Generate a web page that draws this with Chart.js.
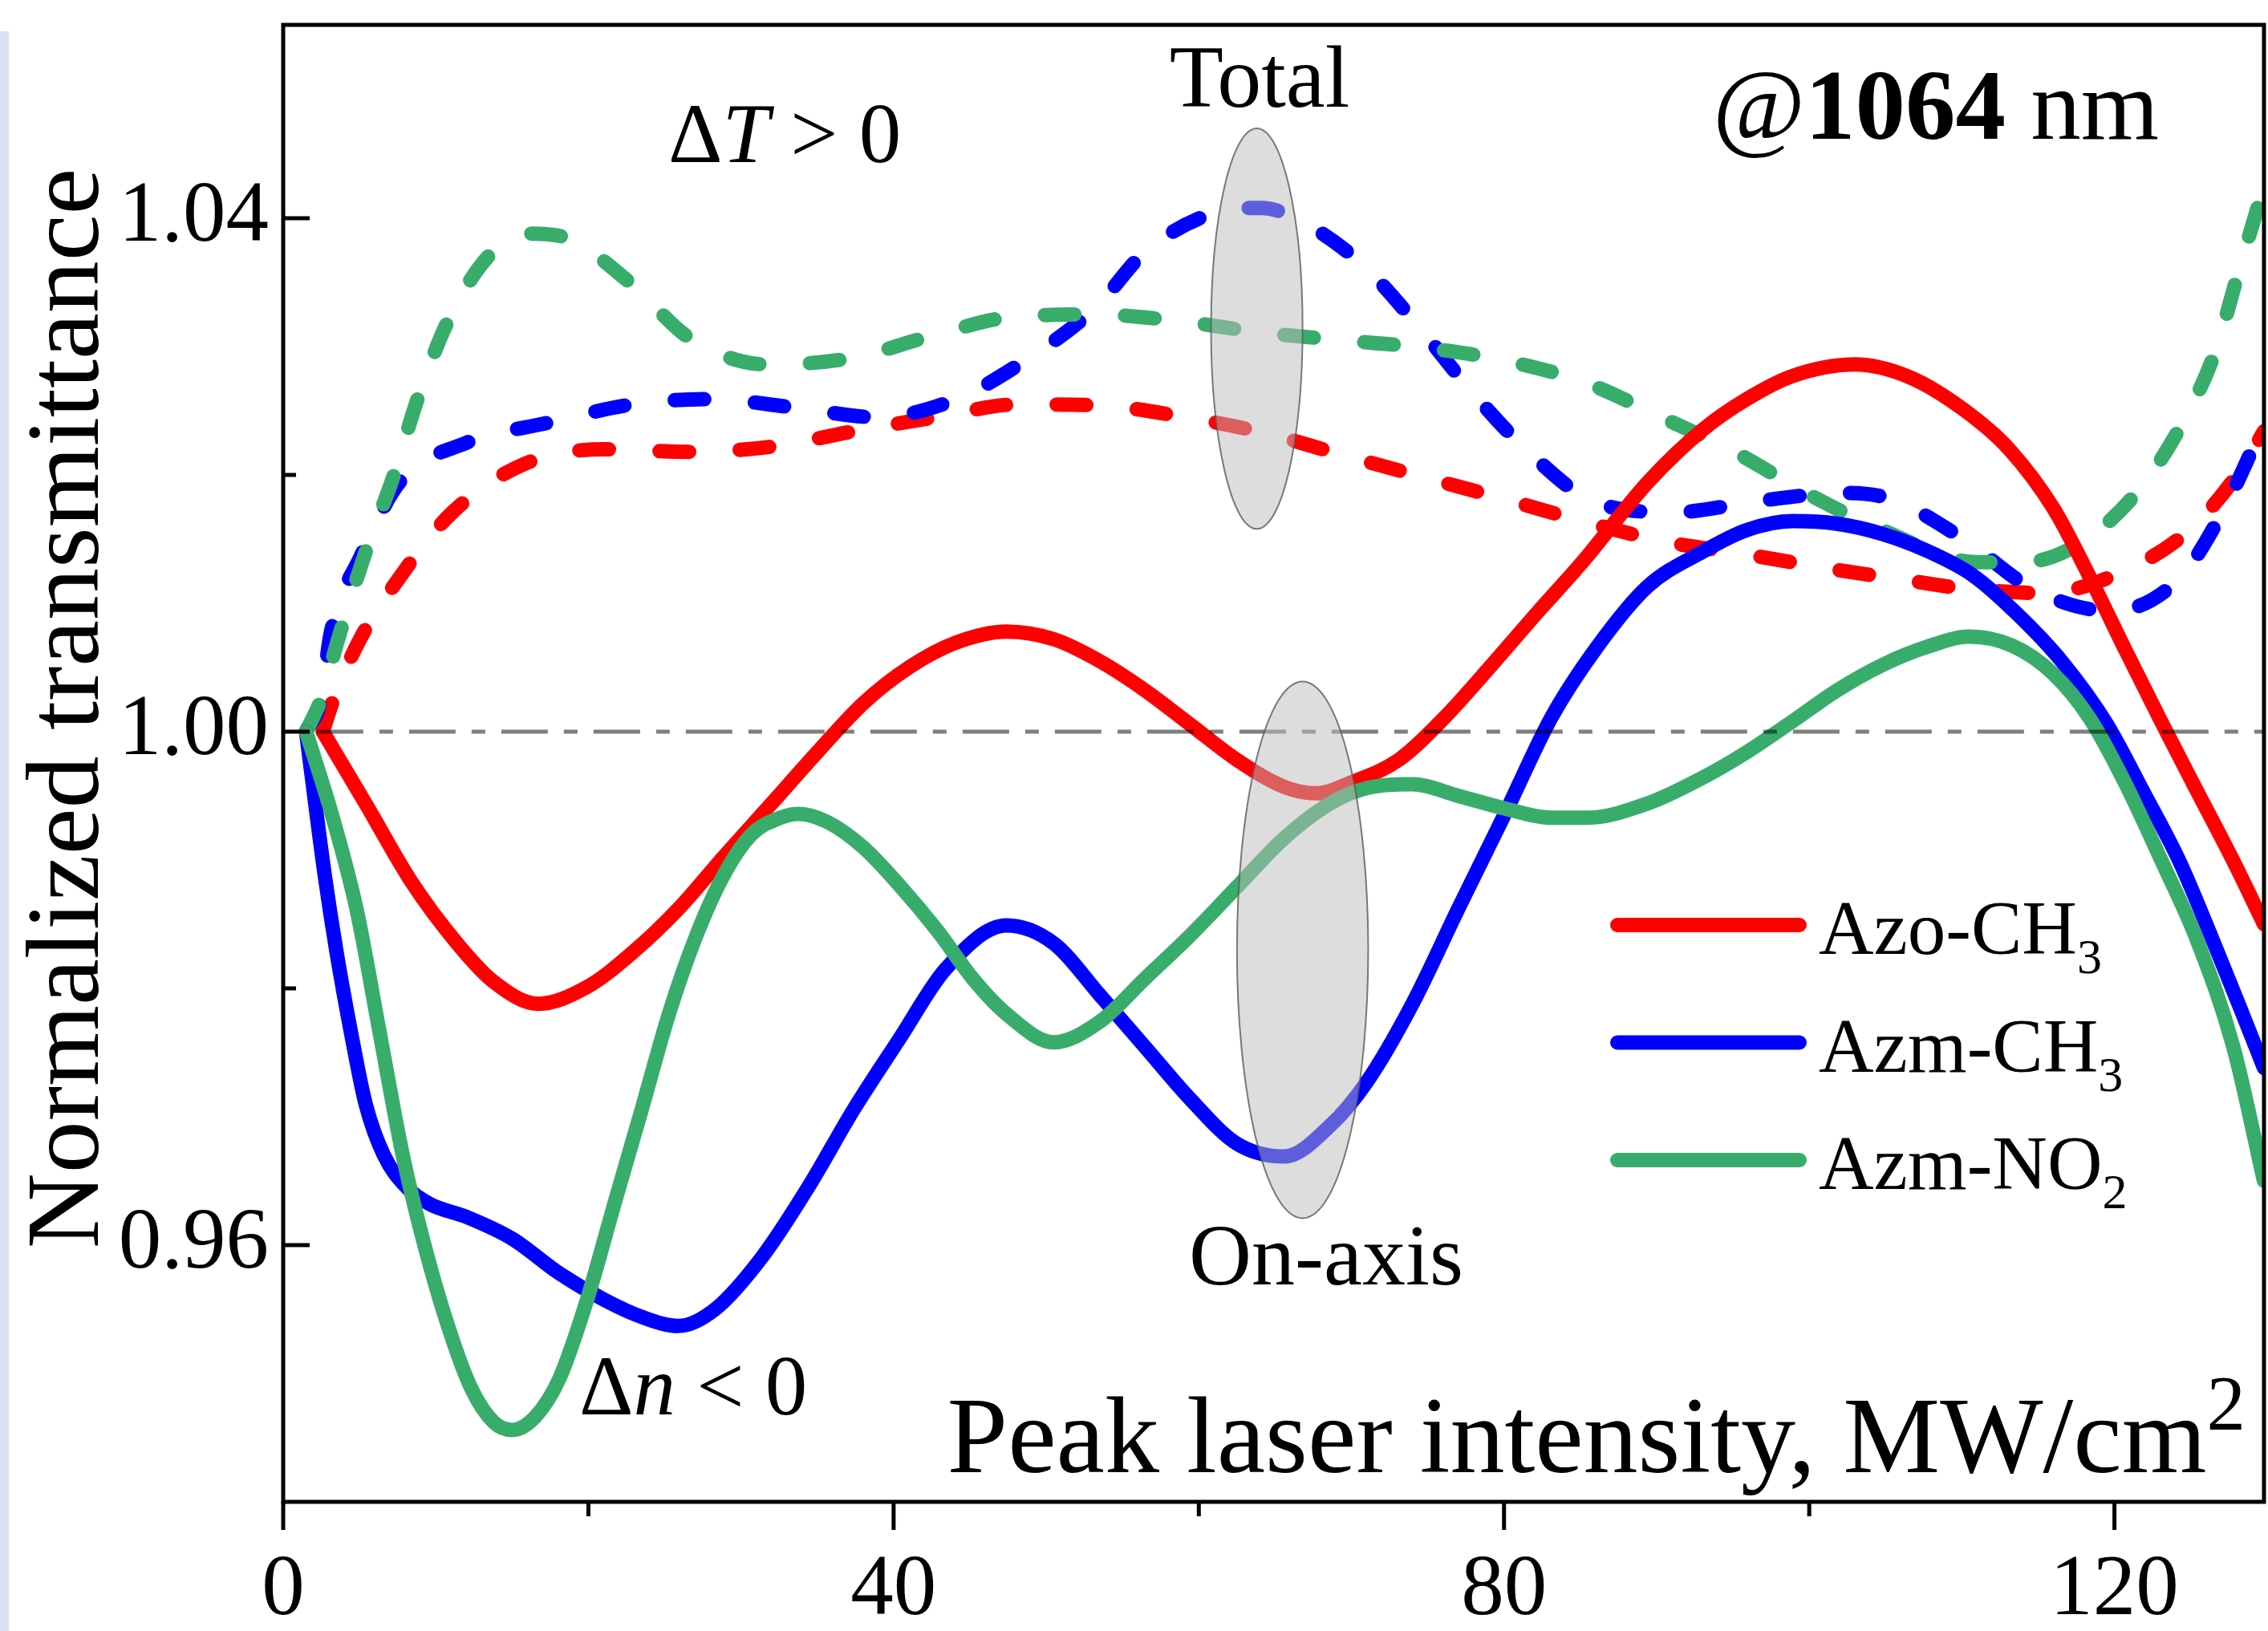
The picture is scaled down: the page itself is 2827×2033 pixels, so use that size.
<!DOCTYPE html>
<html>
<head>
<meta charset="utf-8">
<script src="https://cdn.jsdelivr.net/npm/chart.js@4.4.1/dist/chart.umd.min.js"></script>
<style>
  html, body { margin: 0; padding: 0; background: #fff; }
  #wrap { position: relative; width: 2827px; height: 2033px; }
  #strip { position: absolute; left: 0; top: 39px; width: 11px; height: 1994px; background: #dae3f3; }
  canvas { position: absolute; left: 0; top: 0; }
</style>
</head>
<body>
<div id="wrap">
  <div id="strip"></div>
  <canvas id="chart" width="2827" height="2033"></canvas>
</div>
<script>
// -------------------------------
// Data --------------------------
// -------------------------------
const seriesLabels = ["Azo-CH3", "Azm-CH3", "Azm-NO2"];

// on-axis (solid)
const azoOnX = [2.6, 5.4, 8.4, 11.4, 13.8, 16.7, 19.9, 22.9, 25.9, 28.9, 32.0, 35.0, 38.0, 41.0, 44.0, 47.4, 50.5, 53.5, 56.5, 59.5, 62.5, 65.6, 67.7, 70.1, 73.1, 76.1, 79.2, 82.2, 85.2, 89.4, 93.0, 95.9, 98.9, 103.0, 106.6, 110.1, 113.1, 116.0, 118.4, 120.7, 123.1, 125.4, 127.8, 129.8];
const azoOnY = [1.0000, 0.9944, 0.9883, 0.9835, 0.9805, 0.9788, 0.9801, 0.9828, 0.9862, 0.9903, 0.9944, 0.9984, 1.0022, 1.0050, 1.0069, 1.0078, 1.0072, 1.0055, 1.0032, 1.0005, 0.9978, 0.9957, 0.9952, 0.9961, 0.9978, 1.0011, 1.0052, 1.0093, 1.0133, 1.0194, 1.0235, 1.0259, 1.0277, 1.0286, 1.0276, 1.0251, 1.0220, 1.0174, 1.0120, 1.0064, 1.0007, 0.9954, 0.9899, 0.9850];

const azmCh3OnX = [1.5, 2.7, 3.5, 4.5, 5.4, 6.6, 8.1, 9.6, 12.0, 15.0, 18.1, 21.1, 23.5, 25.9, 28.3, 31.4, 34.4, 37.4, 40.4, 43.4, 47.4, 50.5, 53.5, 56.5, 59.5, 62.5, 65.6, 68.6, 71.0, 74.0, 77.0, 80.1, 83.1, 86.1, 89.4, 93.0, 95.9, 98.9, 101.8, 104.8, 107.7, 110.7, 113.6, 116.6, 119.5, 121.9, 124.3, 126.6, 128.4, 129.8];
const azmCh3OnY = [1.0000, 0.9890, 0.9828, 0.9762, 0.9710, 0.9670, 0.9645, 0.9632, 0.9622, 0.9605, 0.9578, 0.9557, 0.9544, 0.9537, 0.9550, 0.9591, 0.9645, 0.9706, 0.9761, 0.9815, 0.9849, 0.9835, 0.9795, 0.9754, 0.9713, 0.9679, 0.9669, 0.9693, 0.9727, 0.9788, 0.9862, 0.9937, 1.0011, 1.0066, 1.0113, 1.0140, 1.0157, 1.0164, 1.0162, 1.0154, 1.0141, 1.0122, 1.0092, 1.0054, 1.0006, 0.9953, 0.9898, 0.9833, 0.9780, 0.9738];

const azmNo2OnX = [1.5, 3.2, 4.8, 6.3, 7.8, 9.3, 10.8, 12.3, 13.8, 15.0, 16.5, 18.1, 19.9, 21.7, 23.5, 25.3, 27.1, 28.9, 30.7, 32.6, 33.8, 35.6, 38.0, 40.4, 42.8, 45.3, 47.4, 50.5, 53.5, 56.5, 59.5, 62.5, 65.6, 68.6, 71.0, 74.0, 77.0, 80.1, 83.1, 85.5, 89.4, 93.0, 95.9, 98.9, 101.8, 104.8, 107.7, 110.5, 113.3, 116.0, 118.4, 120.7, 123.1, 125.4, 127.8, 129.8];
const azmNo2OnY = [1.0000, 0.9935, 0.9862, 0.9767, 0.9672, 0.9598, 0.9537, 0.9489, 0.9462, 0.9456, 0.9466, 0.9496, 0.9557, 0.9632, 0.9706, 0.9781, 0.9842, 0.9889, 0.9920, 0.9933, 0.9936, 0.9930, 0.9910, 0.9880, 0.9846, 0.9806, 0.9780, 0.9758, 0.9774, 0.9808, 0.9842, 0.9879, 0.9917, 0.9944, 0.9956, 0.9959, 0.9950, 0.9940, 0.9933, 0.9933, 0.9944, 0.9964, 0.9984, 1.0008, 1.0032, 1.0052, 1.0066, 1.0074, 1.0067, 1.0045, 1.0010, 0.9960, 0.9899, 0.9838, 0.9754, 0.9650];

// total (dashed)
const azoTotX = [2.6, 3.2, 4.9, 7.8, 11.1, 15.9, 21.1, 26.5, 32.0, 37.4, 42.8, 48.2, 53.6, 59.1, 64.2, 69.3, 74.8, 80.1, 85.1, 90.6, 95.9, 101.3, 106.9, 109.8, 115.4, 120.4, 124.9, 128.4, 129.8];
const azoTotY = [1.0000, 1.0022, 1.0069, 1.0123, 1.0171, 1.0209, 1.0220, 1.0218, 1.0222, 1.0234, 1.0245, 1.0255, 1.0254, 1.0245, 1.0233, 1.0216, 1.0198, 1.0181, 1.0164, 1.0148, 1.0138, 1.0127, 1.0117, 1.0112, 1.0108, 1.0124, 1.0157, 1.0206, 1.0234];

const azmCh3TotX = [1.5, 2.5, 3.1, 5.1, 7.6, 12.0, 17.5, 22.9, 28.0, 33.8, 38.9, 44.1, 48.6, 53.2, 56.5, 61.3, 64.1, 66.5, 70.7, 74.3, 77.8, 81.6, 86.1, 91.2, 96.8, 102.4, 105.4, 110.1, 114.8, 119.8, 124.3, 127.2, 129.8];
const azmCh3TotY = [1.0000, 1.0026, 1.0076, 1.0137, 1.0194, 1.0225, 1.0241, 1.0255, 1.0259, 1.0252, 1.0245, 1.0259, 1.0289, 1.0330, 1.0374, 1.0405, 1.0408, 1.0399, 1.0364, 1.0317, 1.0266, 1.0218, 1.0178, 1.0171, 1.0180, 1.0186, 1.0181, 1.0150, 1.0110, 1.0094, 1.0120, 1.0174, 1.0240];

const azmNo2TotX = [1.5, 2.5, 3.6, 5.4, 7.2, 8.8, 10.8, 13.5, 16.2, 18.7, 22.7, 26.7, 31.8, 37.2, 42.4, 47.7, 53.2, 58.6, 64.1, 69.3, 74.8, 80.1, 85.3, 90.3, 95.1, 100.1, 104.8, 111.0, 114.0, 117.5, 121.3, 124.3, 126.6, 128.2, 129.8];
const azmNo2TotY = [1.0000, 1.0026, 1.0072, 1.0140, 1.0198, 1.0259, 1.0320, 1.0371, 1.0388, 1.0384, 1.0350, 1.0306, 1.0286, 1.0291, 1.0308, 1.0323, 1.0325, 1.0320, 1.0311, 1.0305, 1.0299, 1.0289, 1.0272, 1.0245, 1.0218, 1.0184, 1.0157, 1.0132, 1.0132, 1.0145, 1.0184, 1.0237, 1.0296, 1.0361, 1.0425];

// reference line T = 1
const refX = [2.2, 129.8];
const refY = [1.0, 1.0];

// axes
const xMajorTicks = [0, 40, 80, 120];
const xMinorTicks = [20, 60, 100];
const yMajorTicks = [0.96, 1.00, 1.04];
const yMinorTicks = [0.98, 1.02];

// -------------------------------
// Styles ------------------------
// -------------------------------
const serif = '"Liberation Serif", "Times New Roman", serif';
const RED = "#ff0000", BLUE = "#0000ff", GREEN = "#38ad6b";
const LINE_W = 18;
const DASH = [37, 63];

// grey ellipses marking the "Total" and "On-axis" groups (data units)
const ellipses = [
  { x: 63.8, y: 1.0314, rx: 3.0, ry: 0.0156 },
  { x: 66.8, y: 0.9830, rx: 4.3, ry: 0.0209 },
];

const pts = (xs, ys) => xs.map((x, i) => ({ x: x, y: ys[i] }));

function solid(label, color, xs, ys, order) {
  return {
    label: label, data: pts(xs, ys), borderColor: color, borderWidth: LINE_W,
    cubicInterpolationMode: "monotone", borderCapStyle: "round", borderJoinStyle: "round",
    pointRadius: 0, fill: false, order: order,
  };
}
function dashed(label, color, xs, ys, order) {
  const d = solid(label + " (total)", color, xs, ys, order);
  d.borderDash = DASH;
  return d;
}

// mixed-font text helper
function drawRuns(ctx, runs, x, y, align) {
  let w = 0;
  runs.forEach(r => { ctx.font = r.font; w += ctx.measureText(r.t).width; });
  let cx = align === "center" ? x - w / 2 : align === "right" ? x - w : x;
  runs.forEach(r => {
    ctx.font = r.font;
    ctx.fillText(r.t, cx, y + (r.dy || 0));
    cx += ctx.measureText(r.t).width;
  });
}

// keep the plot frame exactly where the layout padding puts it
function noScalePadding(s) {
  s.paddingTop = 0; s.paddingBottom = 0; s.paddingLeft = 0; s.paddingRight = 0;
}

// -------------------------------
// Frame, ticks, ellipses --------
// -------------------------------
const framePlugin = {
  id: "frame",
  afterDatasetsDraw(chart) {
    const { ctx, chartArea: a, scales: { x, y } } = chart;
    ctx.save();
    ellipses.forEach(e => {
      const cx = x.getPixelForValue(e.x), cy = y.getPixelForValue(e.y);
      const rx = x.getPixelForValue(e.x + e.rx) - cx;
      const ry = cy - y.getPixelForValue(e.y + e.ry);
      ctx.beginPath();
      ctx.ellipse(cx, cy, rx, ry, 0, 0, 2 * Math.PI);
      ctx.fillStyle = "rgba(187,187,187,0.5)";
      ctx.fill();
      ctx.lineWidth = 2;
      ctx.strokeStyle = "rgba(90,90,90,0.8)";
      ctx.stroke();
    });

    ctx.strokeStyle = "#000";
    ctx.lineWidth = 5;
    ctx.lineCap = "butt";
    ctx.strokeRect(a.left, a.top, a.right - a.left, a.bottom - a.top);

    // x ticks point outward, y ticks inward
    const xt = (v, len) => {
      const px = x.getPixelForValue(v);
      ctx.beginPath(); ctx.moveTo(px, a.bottom); ctx.lineTo(px, a.bottom + len); ctx.stroke();
    };
    const yt = (v, len) => {
      const py = y.getPixelForValue(v);
      ctx.beginPath(); ctx.moveTo(a.left, py); ctx.lineTo(a.left + len, py); ctx.stroke();
    };
    xMajorTicks.forEach(v => xt(v, 35));
    xMinorTicks.forEach(v => xt(v, 18));
    yMajorTicks.forEach(v => yt(v, 33));
    yMinorTicks.forEach(v => yt(v, 16));
    ctx.restore();
  },
};

// -------------------------------
// Titles, notes, legend ---------
// -------------------------------
const textPlugin = {
  id: "texts",
  afterDraw(chart) {
    const ctx = chart.ctx;
    const f = s => s + "px " + serif;
    ctx.save();
    ctx.fillStyle = "#000";
    ctx.textAlign = "left";
    ctx.textBaseline = "alphabetic";

    // y title
    ctx.save();
    ctx.translate(122, 883);
    ctx.rotate(-Math.PI / 2);
    ctx.font = f(130);
    ctx.textAlign = "center";
    ctx.fillText("Normalized transmittance", 0, 0);
    ctx.restore();

    // x title (inside the frame)
    drawRuns(ctx, [
      { t: "Peak laser intensity, MW/cm", font: f(136) },
      { t: "2", font: f(97), dy: -53 },
    ], 2799, 1835, "right");

    drawRuns(ctx, [{ t: "Total", font: f(110) }], 1570, 133, "center");
    drawRuns(ctx, [{ t: "On-axis", font: f(108) }], 1653, 1601, "center");
    drawRuns(ctx, [
      { t: "\u0394", font: f(105) },
      { t: "T", font: "italic " + f(105) },
      { t: " > 0", font: f(105) },
    ], 833, 202, "left");
    drawRuns(ctx, [
      { t: "\u0394", font: f(105) },
      { t: "n", font: "italic " + f(105) },
      { t: " < 0", font: f(105) },
    ], 722, 1763, "left");
    drawRuns(ctx, [
      { t: "@", font: f(125) },
      { t: "1064", font: "bold " + f(125) },
      { t: " nm", font: f(125) },
    ], 2135, 173, "left");

    // legend (solid series only, in label order)
    seriesLabels.forEach((label, i) => {
      const d = chart.data.datasets.find(ds => ds.label === label);
      const ly = 1153 + i * 146.5;
      ctx.strokeStyle = d.borderColor;
      ctx.lineWidth = LINE_W;
      ctx.lineCap = "round";
      ctx.beginPath(); ctx.moveTo(2016, ly); ctx.lineTo(2243, ly); ctx.stroke();
      const m = label.match(/^(.*?)(\d)$/);
      drawRuns(ctx, [
        { t: m[1], font: f(95) },
        { t: m[2], font: f(62), dy: 24 },
      ], 2267, ly + 36, "left");
    });
    ctx.restore();
  },
};

// -------------------------------
// Chart -------------------------
// -------------------------------
const ctx = document.getElementById("chart").getContext("2d");
const chart = new Chart(ctx, {
  type: "line",
  data: {
    datasets: [
      {
        label: "T = 1", data: pts(refX, refY), borderColor: "rgba(0,0,0,0.5)",
        borderWidth: 5, borderDash: [58, 20, 17, 20], pointRadius: 0, fill: false, order: 0,
      },
      solid(seriesLabels[2], GREEN, azmNo2OnX, azmNo2OnY, 1),
      solid(seriesLabels[1], BLUE, azmCh3OnX, azmCh3OnY, 2),
      solid(seriesLabels[0], RED, azoOnX, azoOnY, 3),
      dashed(seriesLabels[2], GREEN, azmNo2TotX, azmNo2TotY, 4),
      dashed(seriesLabels[1], BLUE, azmCh3TotX, azmCh3TotY, 5),
      dashed(seriesLabels[0], RED, azoTotX, azoTotY, 6),
    ],
  },
  options: {
    responsive: false,
    animation: false,
    devicePixelRatio: 1,
    layout: { padding: { top: 31, right: 5, left: 0, bottom: 0 } },
    plugins: { legend: { display: false }, tooltip: { enabled: false } },
    scales: {
      x: {
        type: "linear",
        min: 0,
        max: 129.8,
        grid: { display: false, drawTicks: false },
        border: { display: false },
        afterBuildTicks: s => { s.ticks = xMajorTicks.map(v => ({ value: v })); },
        afterFit: s => { s.height = 161; noScalePadding(s); },
        ticks: {
          autoSkip: false, maxRotation: 0, padding: 48, color: "#000",
          font: { family: serif, size: 107 },
          callback: v => String(v),
        },
      },
      y: {
        type: "linear",
        min: 0.94,
        max: 1.05506,
        grid: { display: false, drawTicks: false },
        border: { display: false },
        afterBuildTicks: s => { s.ticks = yMajorTicks.map(v => ({ value: v })); },
        afterFit: s => { s.width = 353; noScalePadding(s); },
        ticks: {
          autoSkip: false, padding: 18, color: "#000",
          font: { family: serif, size: 107 },
          callback: v => v.toFixed(2),
        },
      },
    },
  },
  plugins: [framePlugin, textPlugin],
});
</script>
</body>
</html>
